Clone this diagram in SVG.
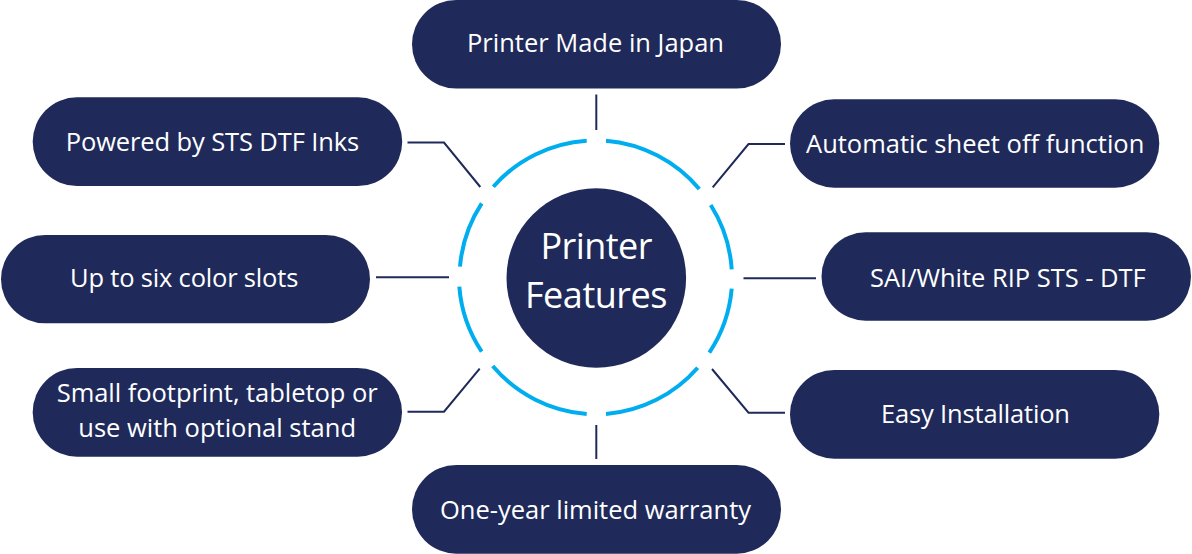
<svg xmlns="http://www.w3.org/2000/svg" width="1192" height="554" viewBox="0 0 1192 554">
<style>
.n{fill:#1f2a5a}
.t{fill:#fff;font-family:"Open Sans","Noto Sans",sans-serif;font-size:25.5px}
.b{font-size:36px}
.c{fill:none;stroke:#1f2a5a;stroke-width:2}
.r{fill:none;stroke:#00aeef;stroke-width:4}
</style>
<rect width="1192" height="554" fill="#fff"/>
<g id="connectors">
<path class="c" d="M596.3 94.5V130"/>
<path class="c" d="M407.5 142.5H444L480.3 187"/>
<path class="c" d="M785 144H748.5L712.7 187.3"/>
<path class="c" d="M376 277.3H449"/>
<path class="c" d="M816 278.3H743.5"/>
<path class="c" d="M407.5 411.7H444L479.7 368.7"/>
<path class="c" d="M785 412.7H748.5L712 369"/>
<path class="c" d="M596.3 425V459"/>
</g>
<g id="ring">
<path class="r" d="M586.7 140.7A136.5 136.5 0 0 0 493.3 186.7"/>
<path class="r" d="M606 140.7A136.5 136.5 0 0 1 699.3 189"/>
<path class="r" d="M710.7 205A136.5 136.5 0 0 1 731.7 269.3"/>
<path class="r" d="M731.7 288.7A136.5 136.5 0 0 1 709.3 352.7"/>
<path class="r" d="M697.7 367.7A136.5 136.5 0 0 1 606 414"/>
<path class="r" d="M586.7 414A136.5 136.5 0 0 1 492.7 366"/>
<path class="r" d="M481.7 351.7A136.5 136.5 0 0 1 459.3 286.7"/>
<path class="r" d="M460 266.7A136.5 136.5 0 0 1 481.7 203.3"/>
</g>
<g id="center"><circle class="n" cx="596.3" cy="278" r="89.8"/><text class="t b" x="540.5" y="258.5" textLength="112">Printer</text><text class="t b" x="525" y="307.5" textLength="142.5">Features</text></g>
<g id="n1"><rect class="n" x="412" y="0" width="369" height="88.5" rx="44.25"/><text class="t" x="467" y="51.5" textLength="257">Printer Made in Japan</text></g>
<g id="n2"><rect class="n" x="32.7" y="97.3" width="369.5" height="88.7" rx="44.3"/><text class="t" x="65.7" y="150.7" textLength="293.5">Powered by STS DTF Inks</text></g>
<g id="n3"><rect class="n" x="790" y="99.3" width="369.3" height="88.4" rx="44.2"/><text class="t" x="806" y="152.7" textLength="338.3">Automatic sheet off function</text></g>
<g id="n4"><rect class="n" x="1" y="235" width="369" height="88.3" rx="44.15"/><text class="t" x="70" y="287.3" textLength="228.3">Up to six color slots</text></g>
<g id="n5"><rect class="n" x="821.5" y="232.3" width="369.5" height="88.4" rx="44.2"/><text class="t" x="870" y="287.3" textLength="275.7">SAI/White RIP STS - DTF</text></g>
<g id="n6"><rect class="n" x="32.7" y="368" width="369.3" height="88.7" rx="44.3"/><text class="t" x="56.7" y="402.3" textLength="321">Small footprint, tabletop or</text><text class="t" x="78.3" y="437.3" textLength="277.7">use with optional stand</text></g>
<g id="n7"><rect class="n" x="790" y="370" width="369.3" height="88.7" rx="44.3"/><text class="t" x="881" y="423" textLength="189">Easy Installation</text></g>
<g id="n8"><rect class="n" x="412" y="465" width="369" height="88.7" rx="44.3"/><text class="t" x="440" y="519" textLength="311">One-year limited warranty</text></g>
</svg>
